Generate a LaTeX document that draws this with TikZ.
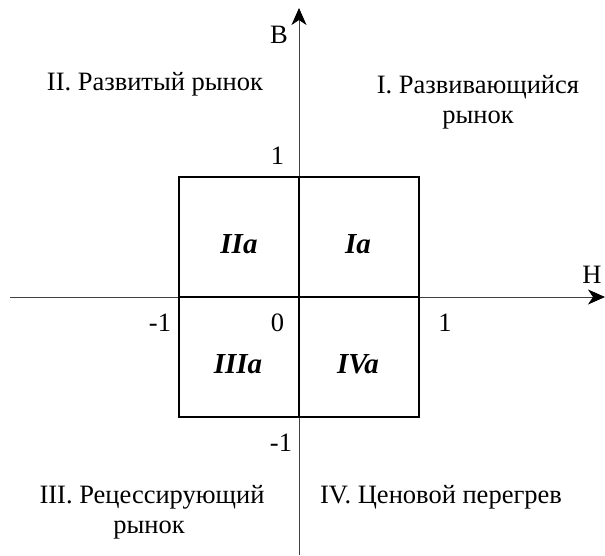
\documentclass[tikz,border=0pt]{standalone}
\usepackage{fontspec}
\setmainfont{Liberation Serif}
\usetikzlibrary{arrows.meta}
\begin{document}
\begin{tikzpicture}[x=1pt,y=-1pt,
  axis/.style={draw=black!75, line width=0.8pt},
  axtip/.style={-{Stealth[length=17pt,width=15pt,inset=5pt,color=black]}},
  cell/.style={draw=black, line width=1.7pt, minimum size=120pt, inner sep=0pt},
  celltext/.style={font=\fontsize{29}{29}\selectfont\bfseries\itshape, anchor=base, inner sep=0pt},
  lbl/.style={font=\fontsize{26.5}{30}\selectfont, anchor=base, inner sep=0pt}]
\useasboundingbox (0,0) rectangle (605,555);
% axes
\coordinate (xs) at (10,297);
\coordinate (xe) at (605,297);
\coordinate (ys) at (299,555);
\coordinate (ye) at (299,8);
\draw[axis,axtip] (xs) -- (xe);
\draw[axis,axtip] (ys) -- (ye);
% cells
\node[cell] (c2) at (239,237) {};
\node[cell] (c1) at (359,237) {};
\node[cell] (c3) at (239,357) {};
\node[cell] (c4) at (359,357) {};
\node[celltext] (t2) at (239,253) {IIa};
\node[celltext] (t1) at (358,253) {Ia};
\node[celltext] (t3) at (238,373) {IIIa};
\node[celltext] (t4) at (358,373) {IVa};
% tick labels
\node[lbl] (ytop) at (277.5,164) {1};
\node[lbl] (xneg) at (160,331) {-1};
\node[lbl] (zero) at (277.5,331) {0};
\node[lbl] (xpos) at (445,331) {1};
\node[lbl] (ybot) at (281,451) {-1};
\node[lbl] (B) at (279,43) {В};
\node[lbl] (H) at (592,283) {Н};
% quadrant labels
\node[lbl] (q2) at (155,90) {II. Развитый рынок};
\node[lbl] (q1a) at (478,93) {I. Развивающийся};
\node[lbl] (q1b) at (478,123) {рынок};
\node[lbl] (q3a) at (152,503) {III. Рецессирующий};
\node[lbl] (q3b) at (149,533) {рынок};
\node[lbl] (q4) at (441,503) {IV. Ценовой перегрев};
\end{tikzpicture}
\end{document}
